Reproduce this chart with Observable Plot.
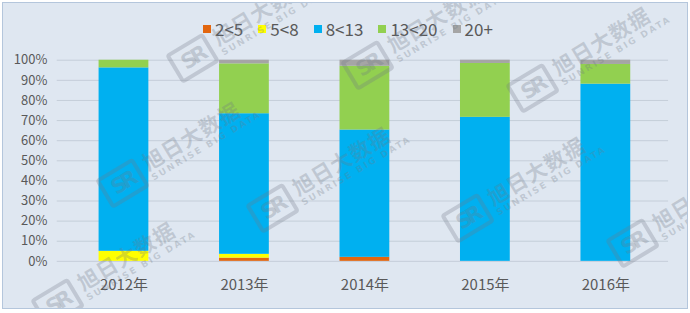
<!DOCTYPE html>
<html>
<head>
<meta charset="utf-8">
<script src="https://cdn.jsdelivr.net/npm/d3@7"></script>
<script src="https://cdn.jsdelivr.net/npm/@observablehq/plot@0.6"></script>
<style>
  html, body { margin: 0; padding: 0; background: #ffffff; }
  #frame {
    position: absolute; left: 2px; top: 2px; width: 684px; height: 305px;
    background: #dfe7f1; border: 1px solid #b4c6dc; overflow: hidden;
    font-family: "Noto Sans CJK SC", "Noto Sans", sans-serif; color: #595959;
  }
  #chart { position: absolute; left: -3px; top: -3px; }
  #legend {
    position: absolute; left: 200px; top: 13px; display: flex; align-items: center;
    font-size: 17px; color: #595959; white-space: nowrap;
  }
  #legend .item { display: flex; align-items: center; margin-right: 15px; }
  #legend .sw { width: 8px; height: 8px; margin-right: 4px; }
  #marks { position: absolute; left: -3px; top: -3px; width: 690px; height: 313px; pointer-events: none; }
  .wm { position: absolute; transform-origin: 0 0; transform: rotate(-31deg);
        color: rgba(110,120,132,0.28); white-space: nowrap; }
  .wm .logo { display: inline-block; width: 36px; height: 26px; border: 4px solid rgba(110,120,132,0.28);
              border-radius: 4px; font: bold 21px/26px "DejaVu Sans", sans-serif; text-align: center;
              vertical-align: middle; margin-right: 6px; letter-spacing: -4px; }
  .wm .txt { display: inline-block; vertical-align: middle; }
  .wm .cn { font-size: 21px; font-weight: bold; line-height: 23px; letter-spacing: 1px; }
  .wm .en { font: bold 9px/11px "DejaVu Sans", sans-serif; letter-spacing: 2px; }
</style>
</head>
<body>
<div id="frame">
  <div id="legend"></div>
  <div id="chart"></div>
  <div id="marks"></div>
</div>
<script>
// Share of each size class per year, in percent
const years = ["2012年", "2013年", "2014年", "2015年", "2016年"];
const seriesNames = ["2<5", "5<8", "8<13", "13<20", "20+"];
const seriesColors = ["#e2660f", "#ffff00", "#00b0f0", "#92d050", "#a5a5a5"];
const s2to5 = [0, 1.6, 2.0, 0, 0];
const s5to8 = [5.0, 1.9, 0, 0, 0];
const s8to13 = [91.2, 69.9, 63.3, 71.6, 88.1];
const s13to20 = [3.8, 24.8, 31.7, 26.8, 9.8];
const s20plus = [0, 1.8, 3.0, 1.6, 2.1];
const yTicks = [0, 10, 20, 30, 40, 50, 60, 70, 80, 90, 100];

const seriesValues = [s2to5, s5to8, s8to13, s13to20, s20plus];
const rows = [];
seriesNames.forEach((name, i) => {
  years.forEach((year, j) => rows.push({year, series: name, value: seriesValues[i][j]}));
});

const chart = Plot.plot({
  width: 690,
  height: 313,
  marginTop: 60,
  marginBottom: 51,
  marginLeft: 61,
  marginRight: 19,
  style: {background: "transparent", fontFamily: "'Noto Sans CJK SC', 'Noto Sans', sans-serif", color: "#595959"},
  x: {domain: years, paddingInner: 0.59, paddingOuter: 0.3, align: 0.5, label: null},
  y: {domain: [0, 100], label: null},
  color: {domain: seriesNames, range: seriesColors},
  marks: [
    Plot.gridY(yTicks, {stroke: "#c5ced9", strokeOpacity: 1, strokeWidth: 1, insetLeft: -4}),
    Plot.barY(rows, Plot.stackY({order: seriesNames}, {x: "year", y: "value", fill: "series"})),
    Plot.axisY(yTicks, {tickSize: 0, tickPadding: 14, fontSize: 13, tickFormat: d => d + "%", label: null}),
    Plot.axisX({tickSize: 0, tickPadding: 18, fontSize: 15, label: null})
  ]
});
document.getElementById("chart").appendChild(chart);

// Legend swatches above the plot
const legend = document.getElementById("legend");
seriesNames.forEach((name, i) => {
  const item = document.createElement("div");
  item.className = "item";
  const sw = document.createElement("span");
  sw.className = "sw";
  sw.style.background = seriesColors[i];
  const label = document.createElement("span");
  label.textContent = name;
  item.appendChild(sw);
  item.appendChild(label);
  legend.appendChild(item);
});

// Brand watermark stamped across the chart
const marksLayer = document.getElementById("marks");
const stamps = [
  [165, 55], [340, 62], [505, 85],
  [95, 180], [245, 205], [440, 215], [605, 240],
  [30, 300]
];
stamps.forEach(([x, y]) => {
  const el = document.createElement("div");
  el.className = "wm";
  el.style.left = x + "px";
  el.style.top = y + "px";
  el.innerHTML = '<span class="logo">SR</span><span class="txt"><div class="cn">旭日大数据</div><div class="en">SUNRISE BIG DATA</div></span>';
  marksLayer.appendChild(el);
});
</script>
</body>
</html>
